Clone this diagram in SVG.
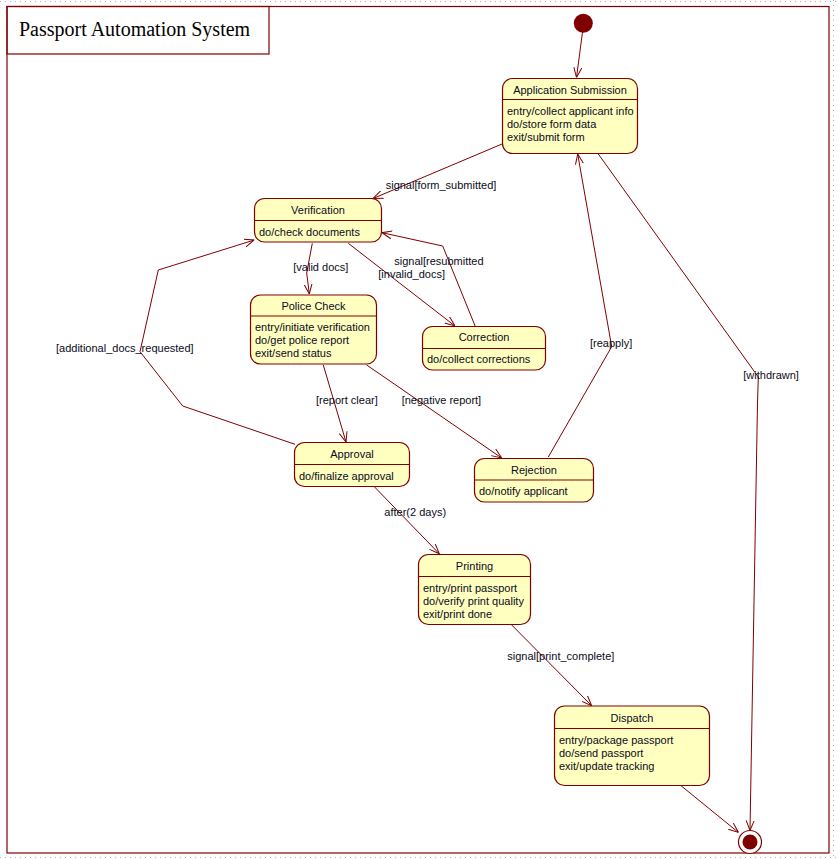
<svg xmlns="http://www.w3.org/2000/svg" width="839" height="859" viewBox="0 0 839 859">
<style>
.st{fill:#FFFFC0;stroke:#800000;stroke-width:1.2}
.dv{stroke:#800000;stroke-width:1}
.nm{font-family:"Liberation Sans",Arial,sans-serif;font-size:11px;fill:#0a0a20;text-anchor:middle}
.bd{font-family:"Liberation Sans",Arial,sans-serif;font-size:11px;fill:#0a0a20}
.lb{font-family:"Liberation Sans",Arial,sans-serif;font-size:11px;fill:#0a0a20}
.cn{fill:none;stroke:#800000;stroke-width:1;marker-end:url(#ah)}
.dot{stroke:#b0b0b0;stroke-width:1;stroke-dasharray:1 4}
</style>
<defs>
<marker id="ah" viewBox="0 0 10 10" refX="10" refY="5" markerWidth="10" markerHeight="10" markerUnits="userSpaceOnUse" orient="auto">
<path d="M0,1 L10,5 L0,9" fill="none" stroke="#800000" stroke-width="1"/>
</marker>
</defs>
<rect width="839" height="859" fill="#ffffff"/>
<line class="dot" x1="0" y1="1.5" x2="839" y2="1.5"/>
<line class="dot" x1="833.5" y1="0" x2="833.5" y2="859"/>
<line class="dot" x1="0" y1="857.5" x2="839" y2="857.5"/>
<g id="frame">
<rect x="7" y="6.5" width="822" height="846.5" fill="none" stroke="#800000" stroke-width="1.2"/>
<rect x="7" y="6.5" width="262" height="47.5" fill="none" stroke="#800000" stroke-width="1.2"/>
<text x="19" y="36" font-family="'Liberation Serif','Times New Roman',serif" font-size="20" fill="#000">Passport Automation System</text>
</g>
<g id="connectors">
<line class="cn" x1="582.5" y1="32" x2="576.5" y2="77.5"/>
<line class="cn" x1="502" y1="144" x2="373" y2="198.5"/>
<polyline class="cn" points="312.3,243.3 306.7,273 309.3,294"/>
<line class="cn" x1="348.3" y1="243.3" x2="455" y2="326"/>
<polyline class="cn" points="475.3,326.5 442.7,246 382,232.7"/>
<polyline class="cn" points="295,444.3 182.7,406 140,351.7 158.3,270 254.3,240"/>
<line class="cn" x1="323.3" y1="365" x2="346" y2="442"/>
<line class="cn" x1="366.7" y1="365" x2="501.7" y2="458"/>
<polyline class="cn" points="548.3,457 611.7,346.7 577.7,154"/>
<polyline class="cn" points="598.3,154 758.3,377 757.5,403 750,830.5"/>
<line class="cn" x1="374.3" y1="486.7" x2="439.3" y2="553.8"/>
<line class="cn" x1="511.7" y1="625" x2="591.7" y2="705.7"/>
<line class="cn" x1="681" y1="785.7" x2="738.5" y2="832.5"/>
<text class="lb" x="385.7" y="189">signal[form_submitted]</text>
<text class="lb" x="293.3" y="270.5">[valid docs]</text>
<text class="lb" x="394.3" y="264.5">signal[resubmitted</text>
<text class="lb" x="378.3" y="278">[invalid_docs]</text>
<text class="lb" x="56" y="352">[additional_docs_requested]</text>
<text class="lb" x="316" y="404">[report clear]</text>
<text class="lb" x="401.7" y="404">[negative report]</text>
<text class="lb" x="590" y="346.5">[reapply]</text>
<text class="lb" x="743.3" y="379">[withdrawn]</text>
<text class="lb" x="384.3" y="515.5">after(2 days)</text>
<text class="lb" x="507.3" y="659.5">signal[print_complete]</text>
</g>
<g id="initial">
<circle cx="583.3" cy="23.3" r="9.5" fill="#800000"/>
</g>
<g id="application_submission">
<rect class="st" x="502.5" y="78.5" width="135" height="75" rx="10"/>
<line class="dv" x1="502.5" y1="99.5" x2="637.5" y2="99.5"/>
<text class="nm" x="570" y="93.5">Application Submission</text>
<text class="bd" x="507" y="114.5">entry/collect applicant info</text>
<text class="bd" x="507" y="127.5">do/store form data</text>
<text class="bd" x="507" y="140.5">exit/submit form</text>
</g>
<g id="verification">
<rect class="st" x="254.5" y="198.5" width="127" height="43.5" rx="10"/>
<line class="dv" x1="254.5" y1="220.5" x2="381.5" y2="220.5"/>
<text class="nm" x="318" y="213.5">Verification</text>
<text class="bd" x="259" y="235.5">do/check documents</text>
</g>
<g id="police_check">
<rect class="st" x="250.5" y="295" width="126" height="69" rx="10"/>
<line class="dv" x1="250.5" y1="316" x2="376.5" y2="316"/>
<text class="nm" x="313.5" y="309.5">Police Check</text>
<text class="bd" x="255" y="331">entry/initiate verification</text>
<text class="bd" x="255" y="344">do/get police report</text>
<text class="bd" x="255" y="357">exit/send status</text>
</g>
<g id="correction">
<rect class="st" x="422.5" y="326.5" width="123" height="43.5" rx="10"/>
<line class="dv" x1="422.5" y1="348.5" x2="545.5" y2="348.5"/>
<text class="nm" x="484" y="341">Correction</text>
<text class="bd" x="427" y="363">do/collect corrections</text>
</g>
<g id="approval">
<rect class="st" x="294.5" y="442.5" width="115" height="44" rx="10"/>
<line class="dv" x1="294.5" y1="464.5" x2="409.5" y2="464.5"/>
<text class="nm" x="352" y="457.5">Approval</text>
<text class="bd" x="299" y="479.5">do/finalize approval</text>
</g>
<g id="rejection">
<rect class="st" x="474.5" y="458.5" width="119" height="43.5" rx="10"/>
<line class="dv" x1="474.5" y1="480" x2="593.5" y2="480"/>
<text class="nm" x="534" y="473.5">Rejection</text>
<text class="bd" x="479" y="495">do/notify applicant</text>
</g>
<g id="printing">
<rect class="st" x="418.5" y="554.5" width="112" height="70" rx="10"/>
<line class="dv" x1="418.5" y1="576.5" x2="530.5" y2="576.5"/>
<text class="nm" x="474.5" y="569.5">Printing</text>
<text class="bd" x="423" y="591.5">entry/print passport</text>
<text class="bd" x="423" y="604.5">do/verify print quality</text>
<text class="bd" x="423" y="617.5">exit/print done</text>
</g>
<g id="dispatch">
<rect class="st" x="554.5" y="706" width="155" height="79.5" rx="10"/>
<line class="dv" x1="554.5" y1="728.5" x2="709.5" y2="728.5"/>
<text class="nm" x="632" y="721.5">Dispatch</text>
<text class="bd" x="559" y="743.5">entry/package passport</text>
<text class="bd" x="559" y="756.5">do/send passport</text>
<text class="bd" x="559" y="769.5">exit/update tracking</text>
</g>
<g id="final">
<circle cx="750" cy="842" r="11.5" fill="#ffffff" stroke="#800000" stroke-width="1.2"/>
<circle cx="750" cy="842" r="7.5" fill="#800000"/>
</g>
</svg>
